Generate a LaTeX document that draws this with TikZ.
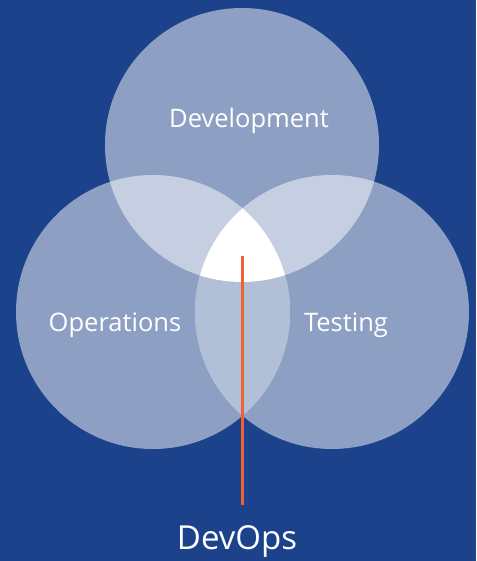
\documentclass[tikz,border=0pt]{standalone}
\usepackage{fontspec}
\setmainfont{Open Sans}
\definecolor{bgblue}{HTML}{1B428A}
\definecolor{lowpair}{HTML}{B1BFD7}
\definecolor{coreline}{HTML}{F06034}

\begin{document}
\begin{tikzpicture}[x=1pt,y=-1pt]
		\fill[bgblue] (0,0) rectangle (476,561);
		\coordinate (cdev) at (242,145);
		\coordinate (cops) at (153,312);
		\coordinate (ctest) at (332,312);
		\coordinate (core) at (242,256);
		\coordinate (coreend) at (242,505);
		\begin{scope}[every path/.style={fill=white,fill opacity=0.5}]
			\fill (cdev) circle (137pt);
			\fill (cops) circle (137pt);
			\fill (ctest) circle (137pt);
		\end{scope}
		\begin{scope}
			\clip (cops) circle (137pt);
			\fill[lowpair] (ctest) circle (137pt);
			\clip (ctest) circle (137pt);
			\fill[white] (cdev) circle (137pt);
		\end{scope}
		\begin{scope}[every node/.style={text=white,font=\fontsize{25.5}{30}\selectfont}]
			\node (dev) at (249,121) {Development};
			\node (ops) at (115,325) {Operations};
			\node (test) at (346,325) {Testing};
			\node[font=\fontsize{33}{40}\selectfont] (devops) at (237,541) {DevOps};
		\end{scope}
		\draw[coreline,line width=3pt] (core) -- (coreend);
	\end{tikzpicture}
\end{document}
